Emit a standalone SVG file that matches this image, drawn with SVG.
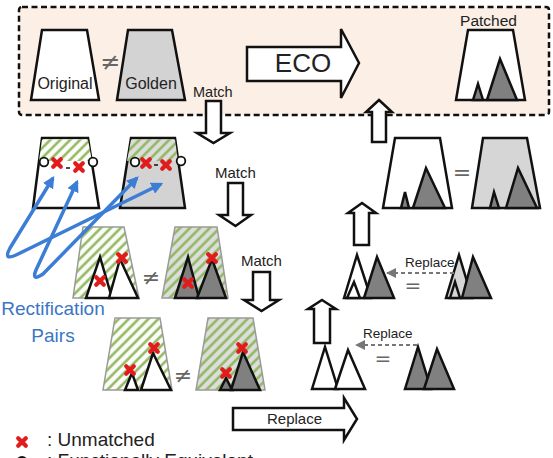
<svg xmlns="http://www.w3.org/2000/svg" xmlns:xlink="http://www.w3.org/1999/xlink" width="553" height="458" viewBox="0 0 553 458">
<style>
.t{font-family:"Liberation Sans",Arial,sans-serif;fill:#222}
.ol{stroke:#111;stroke-width:2.5;stroke-linejoin:miter}
.hol{stroke:#9a9a9a;stroke-width:1.5}
.arr{fill:#fff;stroke:#111;stroke-width:2.5;stroke-linejoin:miter}
.dk{fill:#808080}
.lg{fill:#d6d6d6}
.wh{fill:#fff}
.blue{fill:none;stroke:#3c7dd6;stroke-width:3.5;stroke-linejoin:round}
.dash{fill:none;stroke:#777;stroke-width:2;stroke-dasharray:4,3}
.cir{fill:#fff;stroke:#111;stroke-width:1.8}
.sym{font-family:"DejaVu Sans","Liberation Sans",sans-serif;fill:#666;text-anchor:middle}
</style>
<defs>
<pattern id="hw" width="7" height="7" patternUnits="userSpaceOnUse" patternTransform="rotate(45)">
<rect width="7" height="7" fill="#fbfcf8"/><line x1="1.5" y1="0" x2="1.5" y2="7" stroke="#8db55a" stroke-width="2.4"/>
</pattern>
<pattern id="hg" width="7" height="7" patternUnits="userSpaceOnUse" patternTransform="rotate(45)">
<rect width="7" height="7" fill="#dcdedb"/><line x1="1.5" y1="0" x2="1.5" y2="7" stroke="#8db55a" stroke-width="2.4"/>
</pattern>
<g id="rx"><path d="M-3.8,-3.8 L3.8,3.8 M3.8,-3.8 L-3.8,3.8" stroke="#e01c1c" stroke-width="4.2" stroke-linecap="round"/></g>
<marker id="bh" viewBox="0 0 10 10" refX="8" refY="5" markerWidth="12" markerHeight="12" markerUnits="userSpaceOnUse" orient="auto-start-reverse">
<path d="M0,0 L10,5 L0,10 z" fill="#3c7dd6"/>
</marker>
<marker id="gh" viewBox="0 0 10 10" refX="9" refY="5" markerWidth="11" markerHeight="10" markerUnits="userSpaceOnUse" orient="auto">
<path d="M0,0 L10,5 L0,10 z" fill="#777"/>
</marker>
</defs>

<g id="eco-region">
<rect x="19" y="7" width="530" height="108" rx="3" fill="#fcefe5" stroke="#111" stroke-width="2.5" stroke-dasharray="6,3.5"/>
</g>

<g id="node-original">
<polygon points="42,30 87,30 99,100 31,100" class="wh ol"/>
<text x="65" y="89" class="t" font-size="16" text-anchor="middle">Original</text>
</g>
<text x="110" y="70" class="sym" font-size="24">≠</text>
<g id="node-golden">
<polygon points="128,30 172,30 185,100 117,100" class="ol" fill="#d3d3d3"/>
<text x="151" y="89" class="t" font-size="16" text-anchor="middle">Golden</text>
</g>

<g id="node-patched">
<text x="488.5" y="26" class="t" font-size="15.5" text-anchor="middle" fill="#333">Patched</text>
<polygon points="468,30 513,30 525,100 456,100" class="wh ol"/>
<polygon points="473,100 478,84 483,100" class="dk ol"/>
<polygon points="487,100 500,59 517,100" class="dk ol"/>
</g>

<g id="node-row2-orig">
<polygon points="42,138 88,138 99,208 33,208" class="wh ol"/>
<polygon points="42,139.5 88,139.5 92,161 39,161" fill="url(#hw)"/>
<line x1="66" y1="168" x2="70" y2="168" stroke="#111" stroke-width="1.5"/>
<circle cx="44" cy="162" r="4.3" class="cir"/>
<circle cx="93" cy="162" r="4.3" class="cir"/>
<use xlink:href="#rx" x="57" y="163"/>
<use xlink:href="#rx" x="79" y="167"/>
</g>
<g id="node-row2-gold">
<polygon points="131,138 175,138 185,208 120,208" class="ol" fill="#d3d3d3"/>
<polygon points="131,139.5 175,139.5 178,161 127,161" fill="url(#hg)"/>
<line x1="154" y1="165" x2="158" y2="165" stroke="#111" stroke-width="1.5"/>
<circle cx="135" cy="162" r="4.3" class="cir"/>
<circle cx="181" cy="161" r="4.3" class="cir"/>
<use xlink:href="#rx" x="146" y="163"/>
<use xlink:href="#rx" x="166" y="165"/>
</g>

<g id="node-row3-orig">
<polygon points="83,227 124,227 139,298 73,298" fill="url(#hw)" class="hol"/>
<polygon points="86,298 100,257 112,298" class="wh ol"/>
<polygon points="109,298 120,259 138,298" class="wh ol"/>
<use xlink:href="#rx" x="100" y="281"/>
<use xlink:href="#rx" x="122" y="258"/>
</g>
<text x="151" y="285" class="sym" font-size="22">≠</text>
<g id="node-row3-gold">
<polygon points="175,227 217,227 228,298 162,298" fill="url(#hg)" class="hol"/>
<polygon points="175,298 188,257 199,298" class="dk ol"/>
<polygon points="197,298 212,259 226,298" class="dk ol"/>
<use xlink:href="#rx" x="188" y="283"/>
<use xlink:href="#rx" x="212" y="258"/>
</g>

<g id="node-row4-orig">
<polygon points="115,318 160,318 172,390 103,390" fill="url(#hw)" class="hol"/>
<polygon points="125,390 132,373 138,390" class="wh ol"/>
<polygon points="141,390 153,353 171,390" class="wh ol"/>
<use xlink:href="#rx" x="130" y="370"/>
<use xlink:href="#rx" x="154" y="348"/>
</g>
<text x="183" y="383" class="sym" font-size="22">≠</text>
<g id="node-row4-gold">
<polygon points="208,318 253,318 265,390 196,390" fill="url(#hg)" class="hol"/>
<polygon points="220,390 226,378 232,390" class="dk ol"/>
<polygon points="231,390 243,352 260,390" class="dk ol"/>
<use xlink:href="#rx" x="226" y="373"/>
<use xlink:href="#rx" x="242" y="348"/>
</g>

<g id="node-right-row2">
<polygon points="395,138 440,138 452,208 383,208" class="wh ol"/>
<polygon points="401,208 405,192 409,208" class="dk ol"/>
<polygon points="413,208 426,168 445,208" class="dk ol"/>
<text x="462" y="180" class="sym" font-size="22">=</text>
<polygon points="483,138 527,138 540,208 472,208" class="lg ol"/>
<polygon points="490,208 494,192 499,208" class="dk ol"/>
<polygon points="506,208 518,168 537,208" class="dk ol"/>
</g>

<g id="node-right-row3">
<polygon points="344,298 357,255 371,298" class="wh ol"/>
<polygon points="347,298 354,282 360,298" class="wh ol"/>
<polygon points="364,298 377,257 394,298" class="dk ol"/>
<text x="413" y="292" class="sym" font-size="20">=</text>
<polygon points="446,298 459,255 472,298" class="lg ol"/>
<polygon points="450,298 455,282 460,298" class="lg ol"/>
<polygon points="462,298 473,257 491,298" class="dk ol"/>
</g>

<g id="node-right-row4">
<polygon points="312,389 325,347 338,389" class="wh ol"/>
<polygon points="335,389 348,350 365,389" class="wh ol"/>
<text x="383" y="365" class="sym" font-size="20">=</text>
<polygon points="405,389 418,347 431,389" class="dk ol"/>
<polygon points="424,389 437,349 454,389" class="dk ol"/>
</g>

<g id="label-rectification">
<text x="53" y="315" class="t" font-size="19" text-anchor="middle" style="fill:#3a76c4">Rectification</text>
<text x="53" y="342" class="t" font-size="19" text-anchor="middle" style="fill:#3a76c4">Pairs</text>
</g>

<g id="legend">
<use xlink:href="#rx" x="22" y="442"/>
<text x="47" y="446" class="t" font-size="19">: Unmatched</text>
<circle cx="22" cy="462" r="5" class="cir"/>
<text x="47" y="467" class="t" font-size="19">: Functionally Equivalent</text>
</g>

<g id="connectors">
<polygon points="247,47 341,47 341,29 359,63 341,98 341,81 247,81" class="arr"/>
<text x="303" y="72" class="t" font-size="26" text-anchor="middle" fill="#111">ECO</text>

<text x="193" y="97" class="t" font-size="14.5" fill="#333">Match</text>
<polygon points="206,101 221,101 221,133 230,133 213.5,143 197,133 206,133" class="arr"/>
<text x="215" y="178" class="t" font-size="15" fill="#333">Match</text>
<polygon points="228,183 243,183 243,215 251,215 235.5,226 219,215 228,215" class="arr"/>
<text x="241" y="266" class="t" font-size="15" fill="#333">Match</text>
<polygon points="253,272 270,272 270,300 279,300 261.5,311 244,300 253,300" class="arr"/>

<polygon points="379,100 392,112 386,112 386,142 372,142 372,112 366,112" class="arr"/>
<polygon points="362,203 376,213 369,213 369,245 354,245 354,213 348,213" class="arr"/>
<polygon points="322,300 336,309 330,309 330,343 314,343 314,309 308,309" class="arr"/>

<text x="405" y="267" class="t" font-size="13.5" fill="#333">Replace</text>
<line x1="454" y1="273" x2="387" y2="273" class="dash" marker-end="url(#gh)"/>
<text x="363" y="338" class="t" font-size="13.5" fill="#333">Replace</text>
<line x1="417" y1="345" x2="356" y2="345" class="dash" marker-end="url(#gh)"/>

<polygon points="233,408 344,408 344,398 357,419 344,440 344,430 233,430" class="arr"/>
<text x="267" y="424" class="t" font-size="15">Replace</text>

<path d="M53,178 L10,248 Q3,261 16,255 L161,184" class="blue" marker-start="url(#bh)" marker-end="url(#bh)"/>
<path d="M77,182 L36,270 Q31,282 43,274 L137,178" class="blue" marker-start="url(#bh)" marker-end="url(#bh)"/>
</g>
</svg>
